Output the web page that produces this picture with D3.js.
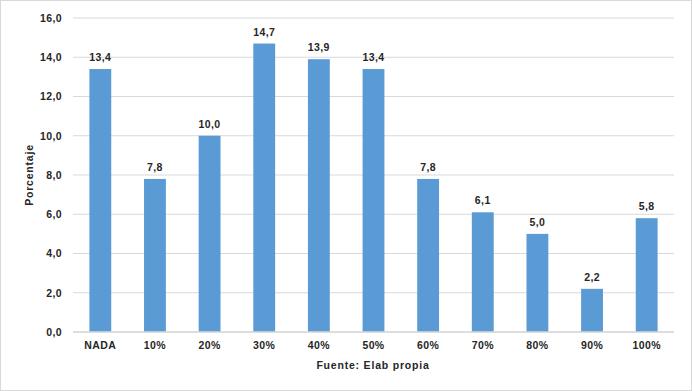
<!DOCTYPE html>
<html><head><meta charset="utf-8">
<script src="https://cdn.jsdelivr.net/npm/d3@7"></script>
<style>body{margin:0;background:#fff}svg{display:block}text{font-family:"Liberation Sans",Arial,sans-serif}</style>
</head><body>
<svg id="c" width="692" height="391"></svg>
<script>
const categories = ["NADA","10%","20%","30%","40%","50%","60%","70%","80%","90%","100%"];
const values = [13.4,7.8,10.0,14.7,13.9,13.4,7.8,6.1,5.0,2.2,5.8];
const yTicks = [0,2,4,6,8,10,12,14,16];
const yTitle = "Porcentaje";
const xTitle = "Fuente: Elab propia";

const svg = d3.select("#c");
svg.append("rect").attr("x",0.5).attr("y",0.5).attr("width",691).attr("height",390)
  .attr("fill","#fff").attr("stroke","#d9d9d9");
const L=73, R=674, T=18, B=332;
const x = d3.scaleBand().domain(categories).range([L,R]).paddingInner(0.6).paddingOuter(0.3);
const y = d3.scaleLinear().domain([0,16]).range([B,T]);
const fmt = v => d3.format(".1f")(v).replace(".",",");
const FS = 10.5, LS = "0.4px";

svg.append("g").selectAll("line").data(yTicks).join("line")
  .attr("x1",L).attr("x2",R).attr("y1",d=>y(d)).attr("y2",d=>y(d))
  .attr("stroke","#d9d9d9").attr("stroke-width",1);

const yAxis = svg.append("g").attr("transform",`translate(${L},0)`)
  .call(d3.axisLeft(y).tickValues(yTicks).tickFormat(fmt).tickSize(0).tickPadding(11));
yAxis.select(".domain").remove();
yAxis.selectAll("text").attr("font-size",FS).attr("font-weight","bold").attr("fill","#262626")
  .attr("letter-spacing",LS).style("font-family","'Liberation Sans',Arial,sans-serif");

svg.append("g").selectAll("rect").data(values).join("rect")
  .attr("x",(d,i)=>x(categories[i])).attr("width",x.bandwidth())
  .attr("y",d=>y(d)).attr("height",d=>B-y(d)).attr("fill","#5b9bd5");

svg.append("line").attr("x1",L).attr("x2",R).attr("y1",B).attr("y2",B).attr("stroke","#d9d9d9").attr("stroke-width",1.5);

svg.append("g").selectAll("text").data(values).join("text")
  .attr("x",(d,i)=>x(categories[i])+x.bandwidth()/2).attr("y",d=>y(d)-8)
  .attr("text-anchor","middle").attr("font-size",FS).attr("font-weight","bold").attr("fill","#262626")
  .attr("letter-spacing",LS).text(fmt);

const xAxis = svg.append("g").attr("transform",`translate(0,${B})`)
  .call(d3.axisBottom(x).tickSize(0).tickPadding(10));
xAxis.select(".domain").remove();
xAxis.selectAll("text").attr("font-size",FS).attr("font-weight","bold").attr("fill","#262626")
  .attr("letter-spacing",LS).style("font-family","'Liberation Sans',Arial,sans-serif");

svg.append("text").attr("x",373).attr("y",369).attr("text-anchor","middle")
  .attr("font-size",FS).attr("font-weight","bold").attr("fill","#262626").attr("letter-spacing","0.8px").text(xTitle);
svg.append("text").attr("transform",`translate(33,${(T+B)/2}) rotate(-90)`).attr("text-anchor","middle")
  .attr("font-size",FS).attr("font-weight","bold").attr("fill","#262626").attr("letter-spacing","0.8px").text(yTitle);
</script>
</body></html>
